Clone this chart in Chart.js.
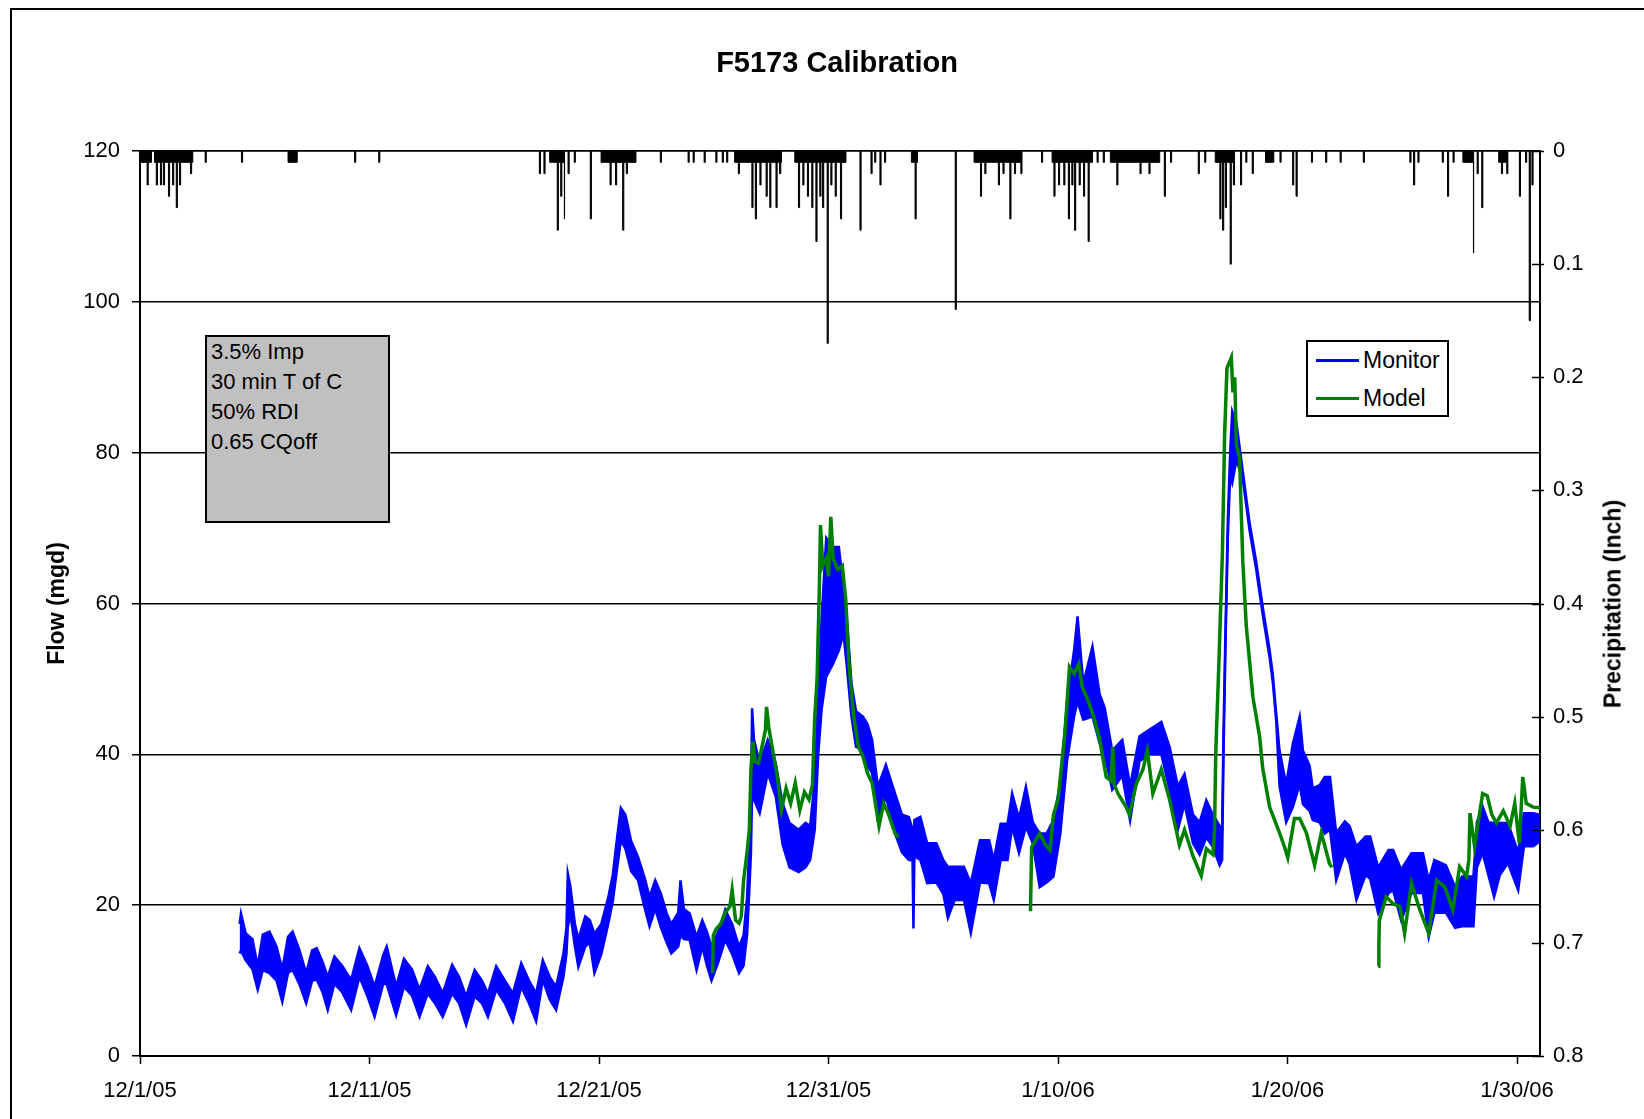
<!DOCTYPE html>
<html>
<head>
<meta charset="utf-8">
<title>F5173 Calibration</title>
<script src="https://cdn.jsdelivr.net/npm/chart.js"></script>
<style>
  html, body { margin: 0; padding: 0; background: #fff; overflow: hidden; }
  #wrap { position: relative; width: 1644px; height: 1119px; font-family: "Liberation Sans", Arial, sans-serif; color: #000; }
  #frame { position: absolute; left: 10px; top: 8px; width: 1700px; height: 1200px; border-left: 2px solid #000; border-top: 2px solid #000; }
  #chart { position: absolute; left: 0; top: 0; }
  #title { position: absolute; left: 837px; top: 48px; transform: translateX(-50%); font-weight: bold; font-size: 29px; line-height: 29px; white-space: nowrap; }
  #rainTitle { position: absolute; left: 1613px; top: 604px; transform: translate(-50%, -50%) rotate(-90deg); font-weight: bold; font-size: 23px; line-height: 27px; white-space: nowrap; }
  #notes { position: absolute; left: 205px; top: 335px; width: 185px; height: 188px; box-sizing: border-box; background: #c0c0c0; border: 2px solid #000; font-size: 22px; line-height: 30px; padding: 0 0 0 4px; white-space: nowrap; }
  #legend { position: absolute; left: 1306px; top: 340px; width: 143px; height: 77px; box-sizing: border-box; background: #fff; border: 2px solid #000; font-size: 23px; }
  #legend .swatch { position: absolute; left: 8px; width: 43px; height: 3px; }
  #legend .label { position: absolute; left: 55px; line-height: 26px; white-space: nowrap; }
</style>
</head>
<body>
<div id="wrap">
  <div id="frame"></div>
  <canvas id="chart" width="1644" height="1119"></canvas>
  <div id="title">F5173 Calibration</div>
  <div id="rainTitle">Precipitation (Inch)</div>
  <div id="notes">3.5% Imp<br>30 min T of C<br>50% RDI<br>0.65 CQoff</div>
  <div id="legend">
    <div class="swatch" style="top:17px;background:#0000ff"></div>
    <div class="label" style="top:5px">Monitor</div>
    <div class="swatch" style="top:55px;background:#008000"></div>
    <div class="label" style="top:43px">Model</div>
  </div>
</div>
<script>
// x positions are days after 12/1/05 00:00
const xTickDays = [0, 10, 20, 30, 40, 50, 60];
const xTickLabels = ["12/1/05", "12/11/05", "12/21/05", "12/31/05", "1/10/06", "1/20/06", "1/30/06"];
const flowTicks = [0, 20, 40, 60, 80, 100, 120];
const rainTicks = [0, 0.1, 0.2, 0.3, 0.4, 0.5, 0.6, 0.7, 0.8];

// monitored flow (mgd): upper and lower edge of the 15-min record
const monitorDay = [
  4.34, 4.40, 4.60, 4.90, 5.13, 5.35, 5.64, 5.95, 6.20, 6.45,
  6.65, 6.95, 7.24, 7.50, 7.70, 7.95, 8.18, 8.47, 8.80, 9.20,
  9.56, 9.90, 10.22, 10.60, 10.75, 11.16, 11.50, 11.85, 12.18, 12.54,
  12.85, 13.19, 13.60, 13.90, 14.21, 14.58, 14.90, 15.16, 15.52, 15.90,
  16.25, 16.61, 16.95, 17.26, 17.55, 17.85, 18.13, 18.45, 18.58, 18.64,
  18.75, 18.95, 19.10, 19.40, 19.60, 19.80, 20.10, 20.40, 20.60, 20.75,
  20.95, 21.15, 21.40, 21.70, 22.00, 22.20, 22.45, 22.70, 22.95, 23.15,
  23.45, 23.55, 23.70, 23.95, 24.25, 24.50, 24.70, 24.90, 25.20, 25.50,
  25.80, 26.10, 26.30, 26.45, 26.55, 26.62, 26.67, 26.75, 27.00, 27.35,
  27.70, 28.00, 28.30, 28.70, 29.00, 29.20, 29.40, 29.55, 29.70, 29.90,
  30.20, 30.45, 30.65, 30.80, 31.00, 31.20, 31.50, 31.70, 31.90, 32.15,
  32.50, 32.90, 33.20, 33.50, 33.66, 33.70, 33.74, 34.00, 34.30, 34.70,
  35.00, 35.20, 35.50, 35.90, 36.20, 36.60, 37.00, 37.20, 37.50, 37.80,
  38.00, 38.30, 38.60, 38.90, 39.20, 39.50, 39.80, 40.10, 40.40, 40.70,
  40.85, 41.10, 41.50, 41.81, 42.03, 42.36, 42.80, 43.14, 43.55, 43.99,
  44.50, 44.86, 45.22, 45.51, 45.88, 46.17, 46.46, 46.75, 47.04, 47.15,
  47.21, 47.30, 47.40, 47.50, 47.59, 47.77, 48.05, 48.34, 48.63, 48.92,
  49.22, 49.36, 49.51, 49.65, 49.94, 50.23, 50.53, 50.67, 50.96, 51.10,
  51.40, 51.62, 51.85, 52.12, 52.50, 52.70, 53.00, 53.40, 53.60, 53.95,
  54.40, 54.60, 54.95, 55.40, 55.90, 56.15, 56.40, 56.90, 57.30, 57.60,
  58.10, 58.25, 58.50, 58.75, 59.00, 59.25, 59.60, 60.05, 60.30, 60.70,
  61.00
];
const monitorHigh = [
  17.5, 18.9, 16.3, 15.5, 11.9, 16.1, 16.5, 14.5, 11.5, 15.8,
  16.5, 14.0, 11.0, 14.0, 14.3, 12.5, 10.5, 13.2, 12.0, 10.1,
  14.3, 12.0, 9.2, 13.4, 14.5, 9.2, 12.9, 11.5, 8.8, 11.9,
  10.5, 8.3, 12.1, 10.5, 7.9, 11.4, 10.0, 8.3, 11.9, 10.0,
  8.3, 12.3, 10.0, 8.3, 12.7, 10.5, 9.2, 13.6, 17.0, 24.2,
  22.5, 17.5, 15.5, 18.5, 18.0, 16.2, 17.5, 21.0, 24.0, 28.0,
  32.9, 32.0, 28.5, 26.4, 23.5, 21.1, 23.3, 21.5, 18.9, 17.5,
  19.0, 23.3, 19.5, 18.9, 15.8, 18.0, 16.5, 14.5, 16.5, 19.4,
  17.5, 14.5, 16.0, 21.0, 27.8, 33.1, 46.1, 42.0, 38.8, 41.9,
  38.8, 33.5, 30.9, 30.0, 30.9, 30.5, 36.6, 47.7, 58.0, 68.7,
  67.5, 67.5, 62.0, 58.0, 49.4, 45.7, 45.0, 44.0, 41.9, 35.7,
  38.6, 34.8, 32.0, 31.7, 30.0, 28.0, 31.3, 31.7, 28.2, 28.2,
  26.0, 25.1, 25.1, 25.1, 22.9, 28.6, 28.6, 26.0, 30.8, 30.8,
  34.8, 31.5, 35.7, 31.0, 29.5, 29.5, 31.3, 36.2, 47.2, 53.8,
  58.3, 49.4, 54.3, 48.0, 46.2, 40.5, 41.9, 35.8, 42.4, 43.3,
  44.3, 41.0, 35.8, 37.4, 32.0, 31.0, 33.9, 32.0, 30.5, 30.0,
  42.9, 57.1, 71.3, 80.0, 85.5, 84.0, 77.5, 70.8, 65.6, 59.5,
  53.8, 50.5, 45.3, 40.5, 36.0, 41.4, 45.0, 40.5, 38.5, 35.5,
  35.9, 37.0, 37.0, 29.6, 31.1, 30.5, 27.8, 29.1, 29.1, 25.0,
  27.3, 27.3, 24.7, 26.9, 26.9, 23.3, 26.0, 25.3, 22.4, 23.8,
  23.8, 31.0, 33.1, 31.0, 30.9, 30.9, 30.9, 27.0, 32.2, 32.2,
  32.0
];
const monitorLow = [
  13.6, 14.0, 12.7, 11.5, 8.8, 11.4, 11.0, 10.0, 7.2, 11.0,
  11.4, 9.5, 7.0, 10.0, 10.1, 8.5, 6.1, 9.6, 8.5, 6.1,
  10.5, 8.0, 5.2, 9.6, 9.5, 5.4, 9.2, 8.0, 5.2, 8.3,
  7.0, 5.2, 8.3, 7.0, 4.1, 7.9, 7.0, 5.2, 8.8, 7.0,
  4.6, 9.2, 7.0, 4.6, 10.1, 7.5, 6.1, 10.5, 13.5, 17.1,
  18.9, 14.5, 11.8, 14.5, 15.0, 11.0, 13.5, 17.5, 20.5, 24.0,
  28.6, 27.5, 24.5, 23.3, 19.5, 17.2, 19.5, 17.0, 15.0, 13.6,
  14.5, 16.0, 15.5, 15.4, 11.4, 14.5, 12.0, 10.0, 12.5, 15.4,
  13.5, 11.0, 12.0, 16.0, 22.0, 27.0, 35.0, 34.0, 32.2, 37.5,
  34.4, 28.0, 25.0, 24.4, 25.0, 26.0, 30.0, 40.0, 46.0, 50.3,
  52.0, 53.8, 56.0, 51.6, 45.0, 41.0, 40.6, 38.5, 37.5, 31.3,
  34.4, 29.5, 27.0, 26.0, 26.0, 16.9, 26.5, 26.0, 22.9, 23.0,
  21.5, 18.3, 20.7, 20.7, 16.3, 23.0, 22.9, 20.7, 26.0, 26.0,
  30.4, 26.9, 30.4, 28.2, 22.4, 23.0, 23.8, 29.5, 39.3, 45.0,
  47.0, 44.6, 45.0, 41.5, 40.0, 35.3, 37.2, 31.2, 39.1, 40.0,
  40.0, 35.3, 30.0, 33.4, 28.2, 26.7, 29.0, 27.7, 25.3, 26.0,
  40.0, 55.0, 69.0, 77.0, 76.0, 79.0, 76.5, 69.8, 64.6, 58.5,
  52.8, 49.5, 44.3, 35.8, 31.0, 33.0, 36.0, 33.4, 32.5, 31.3,
  31.0, 29.5, 30.0, 23.3, 26.9, 25.5, 20.7, 24.0, 23.5, 18.9,
  21.6, 22.0, 18.0, 21.6, 21.6, 15.8, 19.0, 19.0, 17.0, 17.2,
  17.2, 25.0, 26.9, 24.0, 21.1, 24.0, 25.6, 22.0, 27.8, 27.8,
  28.5
];

// modelled flow (mgd); null marks a break in the model run
const modelDay = [
  24.95, 24.98, 25.10, 25.30, 25.50, 25.70, 25.80, 25.95, 26.10, 26.20,
  26.30, 26.45, 26.55, 26.62, 26.70, 26.80, 26.95, 27.10, 27.25, 27.30,
  27.40, 27.60, 27.75, 27.95, 28.15, 28.35, 28.55, 28.75, 28.95, 29.15,
  29.30, 29.40, 29.50, 29.60, 29.65, 29.75, 29.90, 30.00, 30.10, 30.20,
  30.40, 30.60, 30.75, 30.90, 31.10, 31.30, 31.50, 31.70, 31.90, 32.20,
  32.40, 32.60, 32.90, 33.05, 33.06, 38.80, 38.85, 39.20, 39.45, 39.65,
  39.80, 40.00, 40.30, 40.50, 40.70, 40.90, 41.05, 41.30, 41.55, 41.81,
  42.10, 42.30, 42.39, 42.45, 42.61, 42.97, 43.11, 43.40, 43.70, 43.89,
  44.13, 44.50, 44.86, 45.29, 45.51, 45.88, 46.24, 46.46, 46.75, 46.82,
  46.87, 47.01, 47.16, 47.26, 47.36, 47.55, 47.62, 47.70, 47.77, 47.91,
  48.05, 48.20, 48.49, 48.78, 48.92, 49.22, 49.65, 49.87, 50.01, 50.30,
  50.53, 50.82, 51.18, 51.47, 51.83, 51.93, 51.94, 53.95, 53.98, 54.00,
  54.30, 54.60, 54.90, 55.10, 55.40, 55.75, 56.15, 56.50, 56.85, 57.20,
  57.50, 57.80, 57.90, 57.95, 58.15, 58.50, 58.70, 58.90, 59.10, 59.40,
  59.70, 59.90, 60.10, 60.25, 60.40, 60.70, 61.00
];
const modelFlow = [
  11.0, 16.0, 16.8, 17.5, 19.0, 19.8, 22.0, 18.0, 17.6, 18.5,
  23.3, 27.0, 30.0, 38.0, 41.7, 39.0, 38.8, 41.0, 43.2, 46.3,
  43.5, 40.0, 37.5, 32.6, 35.5, 33.5, 36.2, 32.6, 35.0, 34.0,
  36.0, 45.0, 49.9, 62.0, 70.4, 65.0, 66.0, 63.6, 71.5, 66.0,
  64.5, 65.0, 60.5, 51.6, 45.0, 41.0, 39.7, 37.5, 36.2, 30.5,
  33.5, 32.2, 29.5, 29.0, null, 19.2, 27.7, 29.5, 28.0, 27.3,
  32.0, 34.0, 42.8, 51.6, 50.7, 52.0, 49.0, 47.2, 45.0, 42.0,
  37.0, 36.5, 41.0, 36.0, 34.8, 33.0, 32.0, 36.0, 38.0, 40.5,
  34.8, 38.0, 34.0, 28.0, 30.0, 26.5, 23.9, 27.5, 26.7, 30.0,
  40.0, 52.3, 66.5, 82.6, 91.2, 92.6, 88.0, 90.0, 81.0, 79.3,
  65.6, 57.1, 47.6, 42.4, 38.1, 33.0, 29.6, 27.7, 26.3, 31.5,
  31.5, 29.6, 25.3, 29.6, 25.5, 25.0, null, 11.9, 14.7, 18.0,
  21.1, 20.2, 19.8, 16.3, 22.9, 19.5, 16.3, 23.3, 22.4, 19.4,
  25.1, 23.8, 26.0, 32.2, 27.8, 34.8, 34.5, 32.0, 30.9, 32.5,
  30.5, 33.5, 28.2, 37.0, 33.5, 33.0, 32.9
];

// rainfall (inch): long spells of 0.01 in/hr and individual hourly bursts
const rainSpellStart = [0.00, 0.63, 6.45, 17.85, 20.09, 25.91, 28.53, 33.61, 36.34, 39.74, 42.28, 46.85, 49.04, 57.64, 59.20];
const rainSpellEnd   = [0.50, 2.30, 6.85, 18.50, 21.61, 27.95, 30.76, 33.88, 38.38, 41.50, 44.43, 47.64, 49.40, 58.11, 59.60];
const rainBurstDay = [
  0.31, 0.71, 0.89, 1.02, 1.24, 1.42, 1.58, 1.72, 2.20, 2.84, 4.42, 9.35, 10.40,
  17.40, 17.60, 18.18, 18.33, 18.49, 18.65, 18.92, 19.62, 20.48, 20.72, 21.03, 21.19, 22.67,
  23.88, 24.10, 24.58, 25.09, 25.37, 25.56,
  26.07, 26.66, 26.81, 27.01, 27.28, 27.44, 27.71, 27.87,
  28.69, 28.88, 29.08, 29.27, 29.45, 29.62, 29.74, 29.94, 30.10, 30.29, 30.52, 31.37, 31.85, 32.01, 32.24, 32.44, 33.77, 35.52,
  36.62, 36.81, 37.40, 37.60, 37.90, 38.10, 38.38,
  39.28, 39.82, 40.02, 40.25, 40.45, 40.60, 40.72, 40.92, 41.11, 41.31, 41.70, 41.97,
  42.56, 42.87, 43.26, 43.57, 43.96, 44.63, 44.90,
  46.11, 46.39, 47.05, 47.17, 47.29, 47.50, 47.64, 47.95, 48.18, 48.46, 49.67, 50.22, 50.37, 51.04, 51.66, 52.29, 53.30,
  55.33, 55.49, 55.68, 56.74, 56.97, 57.21, 58.10, 58.26, 58.46, 59.32, 59.55, 60.10, 60.37, 60.53, 60.65
];
const rainBurstDepth = [
  0.03, 0.03, 0.03, 0.03, 0.04, 0.03, 0.05, 0.03, 0.02, 0.01, 0.01, 0.01, 0.01,
  0.02, 0.02, 0.07, 0.04, 0.06, 0.02, 0.01, 0.06, 0.03, 0.03, 0.07, 0.02, 0.01,
  0.01, 0.01, 0.01, 0.01, 0.01, 0.01,
  0.02, 0.05, 0.06, 0.03, 0.04, 0.05, 0.05, 0.02,
  0.05, 0.03, 0.04, 0.05, 0.08, 0.04, 0.05, 0.17, 0.03, 0.04, 0.06, 0.07, 0.02, 0.01, 0.03, 0.01, 0.06, 0.14,
  0.04, 0.02, 0.03, 0.02, 0.06, 0.02, 0.02,
  0.01, 0.04, 0.03, 0.03, 0.06, 0.03, 0.07, 0.03, 0.04, 0.08, 0.01, 0.01,
  0.03, 0.01, 0.01, 0.02, 0.02, 0.04, 0.01,
  0.02, 0.01, 0.06, 0.07, 0.05, 0.10, 0.03, 0.03, 0.01, 0.02, 0.01, 0.03, 0.04, 0.01, 0.01, 0.01, 0.01,
  0.01, 0.03, 0.01, 0.01, 0.04, 0.01, 0.09, 0.02, 0.05, 0.02, 0.02, 0.04, 0.01, 0.15, 0.03
];
const burstLength = 0.05; // days

const FONT = "'Liberation Sans', Arial, sans-serif";
const tickFont = { family: FONT, size: 22 };

const toPoints = (days, values) => days.map((d, i) => ({ x: d, y: values[i] }));

// hyetograph as a step series hanging from the top of the chart
function spellDepthAt(t) {
  return rainSpellStart.some((s, i) => t >= s && t < rainSpellEnd[i]) ? 0.01 : 0;
}
const rainSteps = [];
rainSpellStart.forEach((s, i) => {
  rainSteps.push({ x: s, y: 0.01 });
  rainSteps.push({ x: rainSpellEnd[i], y: 0 });
});
rainBurstDay.forEach((d, i) => {
  rainSteps.push({ x: d, y: rainBurstDepth[i] });
  rainSteps.push({ x: d + burstLength, y: spellDepthAt(d + burstLength) });
});
rainSteps.sort((a, b) => a.x - b.x);

// tick marks on the precipitation axis cross the axis line
const rainAxisTicks = {
  id: "rainAxisTicks",
  afterDatasetsDraw(chart) {
    const s = chart.scales.y2;
    const ctx = chart.ctx;
    ctx.save();
    ctx.strokeStyle = "#000";
    ctx.lineWidth = 1.5;
    s.ticks.forEach((t) => {
      const y = Math.round(s.getPixelForValue(t.value)) + 0.5;
      ctx.beginPath();
      ctx.moveTo(s.left - 8, y);
      ctx.lineTo(s.left + 4, y);
      ctx.stroke();
    });
    ctx.restore();
  },
};

new Chart(document.getElementById("chart"), {
  type: "line",
  data: {
    datasets: [
      {
        label: "Model",
        data: toPoints(modelDay, modelFlow),
        borderColor: "#008000",
        borderWidth: 3.5,
        pointRadius: 0,
        fill: false,
        yAxisID: "y",
      },
      {
        label: "Monitor",
        data: toPoints(monitorDay, monitorHigh),
        borderColor: "#0000ff",
        borderWidth: 2.5,
        pointRadius: 0,
        fill: false,
        yAxisID: "y",
      },
      {
        label: "Monitor (low)",
        data: toPoints(monitorDay, monitorLow),
        borderColor: "#0000ff",
        backgroundColor: "#0000ff",
        borderWidth: 2.5,
        pointRadius: 0,
        fill: "-1",
        yAxisID: "y",
      },
      {
        label: "Precipitation",
        data: rainSteps,
        borderColor: "#000",
        backgroundColor: "#000",
        borderWidth: 1,
        pointRadius: 0,
        stepped: true,
        fill: "origin",
        yAxisID: "y2",
      },
    ],
  },
  options: {
    responsive: false,
    animation: false,
    devicePixelRatio: 1,
    layout: { padding: { left: 0, right: 0, top: 151, bottom: 0 } },
    plugins: {
      legend: { display: false },
      tooltip: { enabled: false },
    },
    scales: {
      x: {
        type: "linear",
        min: 0,
        max: 61,
        afterBuildTicks: (s) => { s.ticks = xTickDays.map((v) => ({ value: v })); },
        afterFit: (s) => { s.height = 63; },
        ticks: {
          callback: (v) => xTickLabels[xTickDays.indexOf(v)],
          color: "#000",
          font: tickFont,
          padding: 14,
          maxRotation: 0,
          autoSkip: false,
        },
        grid: { drawOnChartArea: false, drawTicks: true, tickLength: 8, tickColor: "#000", tickWidth: 1.5 },
        border: { display: true, color: "#000", width: 2 },
      },
      y: {
        position: "left",
        min: 0,
        max: 120,
        afterBuildTicks: (s) => { s.ticks = flowTicks.map((v) => ({ value: v })); },
        afterFit: (s) => { s.width = 140; },
        ticks: { color: "#000", font: tickFont, padding: 12 },
        grid: { color: "#000", lineWidth: 1.5, tickLength: 8, tickColor: "#000" },
        border: { display: true, color: "#000", width: 2 },
        title: {
          display: true,
          text: "Flow (mgd)",
          color: "#000",
          font: { family: FONT, size: 23, weight: "bold" },
          padding: { top: 44, bottom: 0 },
        },
      },
      y2: {
        position: "right",
        min: 0,
        max: 0.8,
        reverse: true,
        afterBuildTicks: (s) => { s.ticks = rainTicks.map((v) => ({ value: v })); },
        afterFit: (s) => { s.width = 104; },
        ticks: { color: "#000", font: tickFont, padding: 13, callback: (v) => String(v) },
        grid: { drawOnChartArea: false, drawTicks: false },
        border: { display: true, color: "#000", width: 2 },
      },
    },
  },
  plugins: [rainAxisTicks],
});
</script>
</body>
</html>
